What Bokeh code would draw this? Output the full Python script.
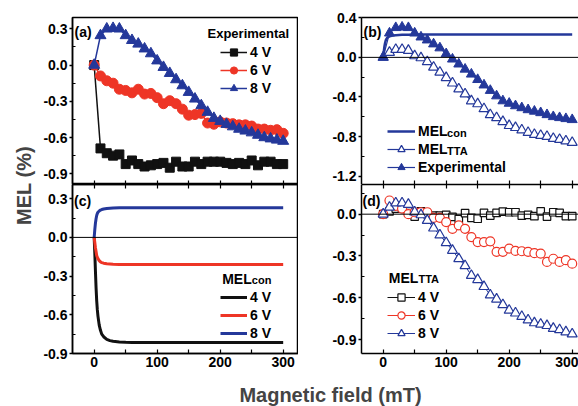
import math
from bokeh.plotting import figure
from bokeh.models import (Range1d, FixedTicker, NumeralTickFormatter, LinearAxis,
                          Span, Label, Legend, LegendItem, CustomLabelingPolicy)
from bokeh.layouts import row, column
from bokeh.embed import file_html
from bokeh.resources import INLINE

# ---------------- data ----------------
FIELD = [0, 10, 20, 30, 40, 50, 60, 70, 80, 90, 100, 110, 120, 130, 140, 150,
         160, 170, 180, 190, 200, 210, 220, 230, 240, 250, 260, 270, 280, 290, 300]

EXP_4V = [0, -0.69, -0.73, -0.75, -0.74, -0.82, -0.79, -0.82, -0.84, -0.83, -0.82,
          -0.81, -0.85, -0.80, -0.84, -0.84, -0.80, -0.82, -0.80, -0.80, -0.80,
          -0.81, -0.82, -0.81, -0.82, -0.79, -0.83, -0.80, -0.80, -0.82, -0.82]
EXP_6V = [0, -0.09, -0.13, -0.15, -0.20, -0.21, -0.23, -0.20, -0.24, -0.235, -0.27,
          -0.32, -0.295, -0.32, -0.365, -0.415, -0.41, -0.40, -0.48, -0.49, -0.47,
          -0.48, -0.485, -0.495, -0.495, -0.505, -0.53, -0.53, -0.54, -0.535, -0.565]
EXP_8V = [0, 0.245, 0.30, 0.305, 0.30, 0.245, 0.205, 0.175, 0.135, 0.095, 0.036,
          -0.018, -0.068, -0.12, -0.17, -0.225, -0.28, -0.335, -0.39, -0.44, -0.465,
          -0.49, -0.51, -0.53, -0.545, -0.56, -0.58, -0.60, -0.61, -0.62, -0.63]

CON_FIELD = [0, 1, 2, 3, 4, 5, 6, 8, 10, 12, 15, 20, 25, 30, 40, 50, 60, 80, 100,
             150, 200, 250, 300]
CON_4V = [0, -0.12, -0.26, -0.39, -0.49, -0.56, -0.61, -0.68, -0.72, -0.75, -0.77,
          -0.79, -0.80, -0.805, -0.81, -0.813, -0.815, -0.815, -0.815, -0.815,
          -0.815, -0.815, -0.815]
CON_6V = [0, -0.04, -0.08, -0.11, -0.14, -0.155, -0.165, -0.18, -0.19, -0.195, -0.20,
          -0.205, -0.207, -0.209, -0.21, -0.21, -0.21, -0.21, -0.21, -0.21, -0.21,
          -0.21, -0.21]
CON_8V = [0, 0.06, 0.11, 0.145, 0.17, 0.185, 0.195, 0.205, 0.212, 0.216, 0.22,
          0.224, 0.226, 0.228, 0.229, 0.23, 0.23, 0.23, 0.23, 0.23, 0.23, 0.23, 0.23]

TTA_4V = [0, 0.02, 0.04, 0.04, 0.02, -0.017, 0.02, 0.0, -0.01, -0.01, -0.005, -0.02,
          -0.035, 0.007, -0.026, -0.033, 0.009, -0.01, 0.009, 0.019, 0.014, 0.014,
          -0.01, -0.005, -0.014, 0.02, -0.017, 0.014, 0.009, -0.014, -0.014]
TTA_6V = [0, 0.098, 0.06, 0.04, 0.0, 0.014, 0.014, 0.014, -0.026, -0.026, -0.057,
          -0.105, -0.08, -0.105, -0.164, -0.20, -0.20, -0.195, -0.27, -0.27, -0.247,
          -0.264, -0.266, -0.27, -0.28, -0.283, -0.343, -0.32, -0.343, -0.33, -0.355]
TTA_8V = [0, 0.05, 0.08, 0.08, 0.07, 0.015, -0.005, -0.045, -0.10, -0.15, -0.205,
          -0.26, -0.32, -0.37, -0.44, -0.47, -0.52, -0.58, -0.61, -0.65, -0.69,
          -0.71, -0.735, -0.76, -0.78, -0.79, -0.80, -0.82, -0.83, -0.845, -0.86]

VOLT_LABELS = ["4 V", "6 V", "8 V"]
X_TICKS = [0, 100, 200, 300]
X_MINOR = [50, 150, 250]
Y_TICKS_A = [0.3, 0.0, -0.3, -0.6, -0.9]
Y_TICKS_B = [0.4, 0.0, -0.4, -0.8, -1.2]
Y_TICKS_D = [0.0, -0.3, -0.6, -0.9]

# ---------------- style ----------------
FONT = "Liberation Sans"
BLACK = "#111111"
RED = "#EE3526"
BLUE = "#24389A"
NO_LABELS = CustomLabelingPolicy(code="return new Set()")


def base_fig(w, h, xr, yr, left, top, bottom, outline=True):
    p = figure(width=w, height=h, x_range=Range1d(*xr), y_range=Range1d(*yr),
               title=None, output_backend="svg", toolbar_location=None,
               x_axis_type=None, y_axis_type=None,
               min_border_left=left, min_border_right=0,
               min_border_top=top, min_border_bottom=bottom)
    p.grid.visible = False
    p.background_fill_color = "white"
    p.border_fill_color = "white"
    if outline:
        p.outline_line_color = "black"
        p.outline_line_width = 1.5
        p.outline_line_alpha = 1.0
    else:
        p.outline_line_color = None
    return p


def add_yaxis(p, ticks, minor):
    ax = LinearAxis(ticker=FixedTicker(ticks=ticks, minor_ticks=minor),
                    formatter=NumeralTickFormatter(format="0.0"))
    ax.axis_line_width = 1.5
    ax.axis_line_color = "black"
    ax.major_tick_out = 3
    ax.major_tick_in = 0
    ax.minor_tick_out = 0
    ax.minor_tick_in = 3
    ax.major_tick_line_width = 1.5
    ax.minor_tick_line_width = 1.2
    ax.major_label_text_font = FONT
    ax.major_label_text_font_size = "14px"
    ax.major_label_text_font_style = "bold"
    ax.major_label_text_color = "black"
    ax.major_label_standoff = 2
    p.add_layout(ax, "left")


def add_xaxis(p, place, labels=False, ticks=True):
    ax = LinearAxis(ticker=FixedTicker(ticks=X_TICKS, minor_ticks=X_MINOR))
    ax.axis_line_width = 1.5
    ax.axis_line_color = "black"
    ax.major_tick_out = 0
    ax.minor_tick_out = 0
    ax.major_tick_in = 4 if ticks else 0
    ax.minor_tick_in = 4 if ticks else 0
    ax.major_tick_line_width = 1.2
    ax.minor_tick_line_width = 1.2
    if not ticks:
        ax.major_tick_line_color = None
        ax.minor_tick_line_color = None
    ax.major_label_text_font = FONT
    ax.major_label_text_font_style = "bold"
    ax.major_label_text_color = "black"
    if labels:
        ax.major_label_text_font_size = "14px"
        ax.major_label_standoff = 3
    else:
        ax.major_label_text_font_size = "0px"
        ax.major_label_standoff = 0
        ax.major_label_policy = NO_LABELS
    p.add_layout(ax, place)


def text(p, x, y, s, size="14px", align="left", color="black"):
    # y is the vertical middle of the text, in px above the frame's bottom edge
    p.add_layout(Label(x=x, y=y, x_units="screen", y_units="screen", text=s,
                       text_font=FONT, text_font_size=size, text_font_style="bold",
                       text_color=color, text_align=align, text_baseline="middle"))


def legend(p, items, loc, glyph_w=27):
    lg = Legend(items=[LegendItem(label=lab, renderers=r) for lab, r in items],
                location=loc, orientation="vertical", padding=0, spacing=0, margin=0,
                glyph_width=glyph_w, glyph_height=18, label_height=18,
                label_standoff=3, label_text_font=FONT, label_text_font_size="14px",
                label_text_font_style="bold", label_text_color="black",
                border_line_color=None, background_fill_alpha=0)
    p.add_layout(lg)


def zero_line(p):
    p.add_layout(Span(location=0, dimension="width", line_color="black", line_width=1))


XR_LEFT = (-34.4, 324.3)
XR_RIGHT = (-34.4, 310.0)

# ---------------- (a) experimental ----------------
fa = base_fig(262, 184, XR_LEFT, (-0.989, 0.394), 36, 17, 0)
add_yaxis(fa, Y_TICKS_A, [0.15, -0.15, -0.45, -0.75])
add_xaxis(fa, "below")
ra = []
for vals, col, mk, sz in [(EXP_4V, BLACK, "square", 9), (EXP_6V, RED, "circle", 10),
                          (EXP_8V, BLUE, "triangle", 11)]:
    l = fa.line(FIELD, vals, line_color=col, line_width=1.5)
    s = fa.scatter(FIELD, vals, marker=mk, size=sz, fill_color=col, line_color=col)
    ra.append([l, s])
legend(fa, list(zip(VOLT_LABELS, ra)), (148, 87))
text(fa, 135, 151.5, "Experimental", size="13px")
text(fa, 2, 152.5, "(a)")

# ---------------- (c) MEL_con ----------------
fc = base_fig(262, 199, XR_LEFT, (-0.9, 0.41), 36, 0, 30)
add_yaxis(fc, Y_TICKS_A, [0.15, -0.15, -0.45, -0.75])
add_xaxis(fc, "below", labels=True)
add_xaxis(fc, "above")
zero_line(fc)
rc = []
for vals, col in [(CON_4V, BLACK), (CON_6V, RED), (CON_8V, BLUE)]:
    rc.append([fc.line(CON_FIELD, vals, line_color=col, line_width=3)])
legend(fc, list(zip(VOLT_LABELS, rc)), (148, 11))
text(fc, 149.7, 75, "MEL", size="14px")
text(fc, 179.3, 74, "con", size="11px")
text(fc, 1.5, 153, "(c)")

# ---------------- (b) 8 V comparison ----------------
fb = base_fig(280, 184, XR_RIGHT, (-1.285, 0.403), 63, 17, 0, outline=False)
add_yaxis(fb, Y_TICKS_B, [0.2, -0.2, -0.6, -1.0])
add_xaxis(fb, "below")
add_xaxis(fb, "above", ticks=False)
zero_line(fb)
lb_con = fb.line(CON_FIELD, CON_8V, line_color=BLUE, line_width=2.5)
lb_tta = fb.line(FIELD, TTA_8V, line_color=BLUE, line_width=1.2)
sb_tta = fb.scatter(FIELD, TTA_8V, marker="triangle", size=10, fill_color="white",
                    line_color=BLUE, line_width=1.2)
lb_exp = fb.line(FIELD, EXP_8V, line_color=BLUE, line_width=1.2)
sb_exp = fb.scatter(FIELD, EXP_8V, marker="triangle", size=10, fill_color=BLUE,
                    line_color=BLUE)
legend(fb, [("MEL", [lb_con]), ("MEL", [lb_tta, sb_tta]),
            ("Experimental", [lb_exp, sb_exp])], (26, 8), glyph_w=28)
text(fb, 85.6, 52, "con", size="11px")
text(fb, 85.6, 34, "TTA", size="11px")
text(fb, 2, 152.7, "(b)")

# ---------------- (d) MEL_TTA ----------------
fd = base_fig(280, 199, XR_RIGHT, (-1.0, 0.213), 63, 0, 30, outline=False)
add_yaxis(fd, Y_TICKS_D, [0.15, -0.15, -0.45, -0.75])
add_xaxis(fd, "below", labels=True)
add_xaxis(fd, "above")
zero_line(fd)
rd = []
for vals, col, mk, sz in [(TTA_4V, BLACK, "square", 7.5), (TTA_6V, RED, "circle", 9),
                          (TTA_8V, BLUE, "triangle", 10)]:
    l = fd.line(FIELD, vals, line_color=col, line_width=1)
    s = fd.scatter(FIELD, vals, marker=mk, size=sz, fill_color="white",
                   line_color=col, line_width=1.2)
    rd.append([l, s])
legend(fd, list(zip(VOLT_LABELS, rd)), (26, 11), glyph_w=28)
text(fd, 27.3, 75.5, "MEL", size="14px")
text(fd, 57, 74.3, "TTA", size="11px")
text(fd, 1, 152.2, "(d)")

# ---------------- shared axis titles ----------------
fy = figure(width=36, height=406, title=None, output_backend="svg",
            toolbar_location=None, x_axis_type=None, y_axis_type=None, min_border=0)
fy.outline_line_color = None
fy.grid.visible = False
fy.add_layout(Label(x=23, y=221, x_units="screen", y_units="screen", text="MEL (%)",
                    angle=math.pi / 2, text_align="center", text_baseline="middle",
                    text_font=FONT, text_font_size="20px", text_font_style="bold"))

fx = figure(width=542, height=23, title=None, output_backend="svg",
            toolbar_location=None, x_axis_type=None, y_axis_type=None, min_border=0)
fx.outline_line_color = None
fx.grid.visible = False
fx.add_layout(Label(x=294, y=12, x_units="screen", y_units="screen",
                    text="Magnetic field (mT)", text_align="center",
                    text_baseline="middle", text_font=FONT,
                    text_font_size="20px", text_font_style="bold"))

layout = row(fy, column(row(fa, fb), row(fc, fd), fx))

open("out.html", "w").write(file_html(layout, INLINE))
